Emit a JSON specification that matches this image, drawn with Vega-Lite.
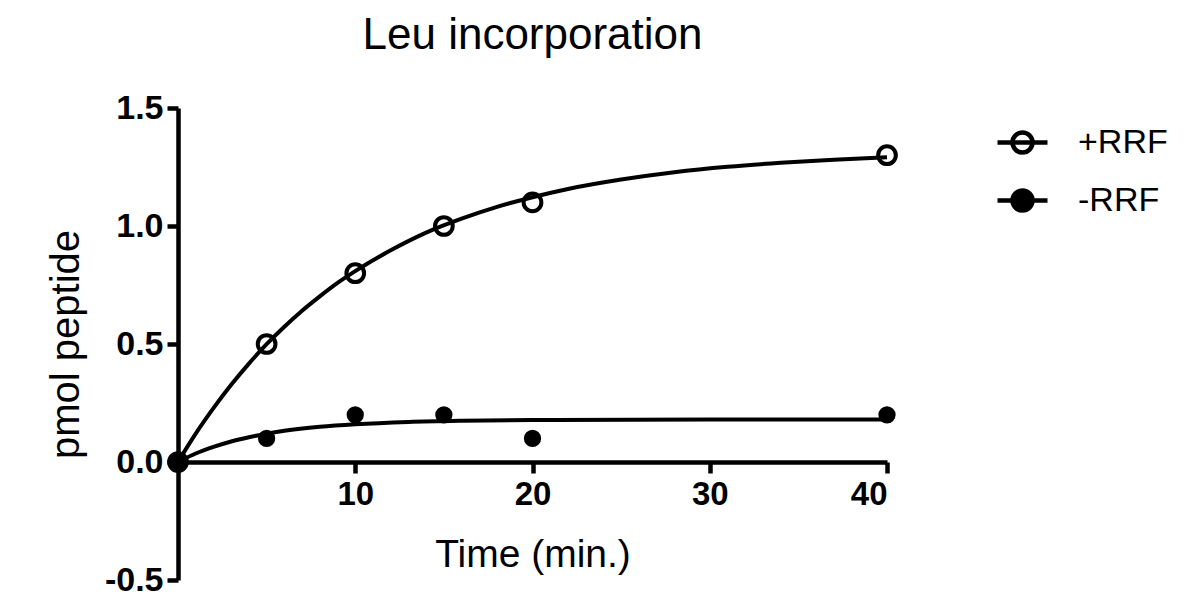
{
  "$schema": "https://vega.github.io/schema/vega-lite/v6.json",
  "width": 709,
  "height": 472,
  "autosize": {"type": "none"},
  "padding": {"left": 178, "top": 108, "right": 305, "bottom": 17},
  "background": "white",
  "title": {"text": "Leu incorporation", "fontSize": 44, "font": "Liberation Sans", "fontWeight": "normal", "color": "black", "anchor": "middle", "frame": "group", "offset": 33},
  "config": {"view": {"stroke": null}, "font": "Liberation Sans"},
  "datasets": {
    "pts": [
      {"t": 0, "y": 0, "series": "+RRF"},
      {"t": 5, "y": 0.5, "series": "+RRF"},
      {"t": 10, "y": 0.8, "series": "+RRF"},
      {"t": 15, "y": 1.0, "series": "+RRF"},
      {"t": 20, "y": 1.1, "series": "+RRF"},
      {"t": 40, "y": 1.3, "series": "+RRF"},
      {"t": 0, "y": 0, "series": "-RRF"},
      {"t": 5, "y": 0.1, "series": "-RRF"},
      {"t": 10, "y": 0.2, "series": "-RRF"},
      {"t": 15, "y": 0.2, "series": "-RRF"},
      {"t": 20, "y": 0.1, "series": "-RRF"},
      {"t": 40, "y": 0.2, "series": "-RRF"}
    ],
    "curve": [
      {"t": 0, "y": 0, "series": "+RRF"},
      {"t": 1, "y": 0.12, "series": "+RRF"},
      {"t": 2, "y": 0.228, "series": "+RRF"},
      {"t": 3, "y": 0.327, "series": "+RRF"},
      {"t": 4, "y": 0.417, "series": "+RRF"},
      {"t": 5, "y": 0.499, "series": "+RRF"},
      {"t": 6, "y": 0.573, "series": "+RRF"},
      {"t": 7, "y": 0.641, "series": "+RRF"},
      {"t": 8, "y": 0.702, "series": "+RRF"},
      {"t": 9, "y": 0.759, "series": "+RRF"},
      {"t": 10, "y": 0.809, "series": "+RRF"},
      {"t": 12, "y": 0.897, "series": "+RRF"},
      {"t": 14, "y": 0.972, "series": "+RRF"},
      {"t": 16, "y": 1.031, "series": "+RRF"},
      {"t": 18, "y": 1.081, "series": "+RRF"},
      {"t": 20, "y": 1.122, "series": "+RRF"},
      {"t": 22, "y": 1.157, "series": "+RRF"},
      {"t": 25, "y": 1.197, "series": "+RRF"},
      {"t": 28, "y": 1.228, "series": "+RRF"},
      {"t": 31, "y": 1.251, "series": "+RRF"},
      {"t": 34, "y": 1.268, "series": "+RRF"},
      {"t": 37, "y": 1.281, "series": "+RRF"},
      {"t": 40, "y": 1.291, "series": "+RRF"},
      {"t": 0, "y": 0, "series": "-RRF"},
      {"t": 1, "y": 0.036, "series": "-RRF"},
      {"t": 2, "y": 0.064, "series": "-RRF"},
      {"t": 3, "y": 0.087, "series": "-RRF"},
      {"t": 4, "y": 0.105, "series": "-RRF"},
      {"t": 5, "y": 0.12, "series": "-RRF"},
      {"t": 6, "y": 0.132, "series": "-RRF"},
      {"t": 8, "y": 0.149, "series": "-RRF"},
      {"t": 10, "y": 0.16, "series": "-RRF"},
      {"t": 13, "y": 0.17, "series": "-RRF"},
      {"t": 16, "y": 0.175, "series": "-RRF"},
      {"t": 20, "y": 0.178, "series": "-RRF"},
      {"t": 30, "y": 0.18, "series": "-RRF"},
      {"t": 40, "y": 0.18, "series": "-RRF"}
    ]
  },
  "encoding": {
    "x": {
      "field": "t", "type": "quantitative",
      "scale": {"domain": [0, 40], "nice": false, "zero": false},
      "axis": {
        "values": [10, 20, 30, 40], "offset": -118, "grid": false,
        "domainWidth": 4.5, "domainColor": "black", "tickWidth": 4.5, "tickColor": "black", "tickSize": 11,
        "labelFontSize": 33, "labelFontWeight": "bold", "labelColor": "black", "labelPadding": 5, "labelFont": "Liberation Sans",
        "title": "Time (min.)", "titleFontSize": 39, "titleFontWeight": "normal", "titleColor": "black", "titlePadding": 24, "titleFont": "Liberation Sans"
      }
    },
    "y": {
      "field": "y", "type": "quantitative",
      "scale": {"domain": [-0.5, 1.5], "nice": false, "zero": false},
      "axis": {
        "values": [-0.5, 0, 0.5, 1, 1.5], "grid": false,
        "labelExpr": "datum.value < 0 ? '-' + format(-datum.value, '.1f') : format(datum.value, '.1f')",
        "domainWidth": 4.5, "domainColor": "black", "tickWidth": 4.5, "tickColor": "black", "tickSize": 11,
        "labelFontSize": 34, "labelFontWeight": "bold", "labelColor": "black", "labelPadding": 4, "labelFont": "Liberation Sans",
        "title": "pmol peptide", "titleFontSize": 40, "titleFontWeight": "normal", "titleColor": "black", "titlePadding": 18, "titleFont": "Liberation Sans"
      }
    }
  },
  "layer": [
    {
      "data": {"name": "curve"},
      "mark": {"type": "line", "color": "black", "strokeWidth": 4, "interpolate": "monotone"},
      "encoding": {"detail": {"field": "series", "type": "nominal"}}
    },
    {
      "data": {"name": "pts"},
      "transform": [{"filter": "datum.series === '+RRF'"}],
      "mark": {"type": "point", "shape": "circle", "filled": true, "stroke": "black", "strokeWidth": 4, "opacity": 1, "size": 314},
      "encoding": {
        "fill": {
          "field": "series", "type": "nominal",
          "scale": {"domain": ["+RRF", "-RRF"], "range": ["transparent", "black"]},
          "legend": {
            "title": null, "orient": "none", "legendX": 817, "legendY": 7, "padding": 0,
            "symbolType": "M-1,0H1M0.4,0A0.4,0.4,0,1,1,-0.4,0A0.4,0.4,0,1,1,0.4,0Z",
            "symbolSize": 2500, "symbolStrokeColor": "black", "symbolStrokeWidth": 4.5, "symbolOpacity": 1,
            "labelFontSize": 34, "labelFont": "Liberation Sans", "labelColor": "black", "labelOffset": 28, "rowPadding": 11
          }
        }
      }
    },
    {
      "data": {"name": "pts"},
      "transform": [{"filter": "datum.series === '-RRF'"}],
      "mark": {"type": "point", "shape": "circle", "filled": true, "stroke": "black", "strokeWidth": 4, "opacity": 1, "size": 177},
      "encoding": {
        "fill": {"field": "series", "type": "nominal"}
      }
    }
  ]
}
